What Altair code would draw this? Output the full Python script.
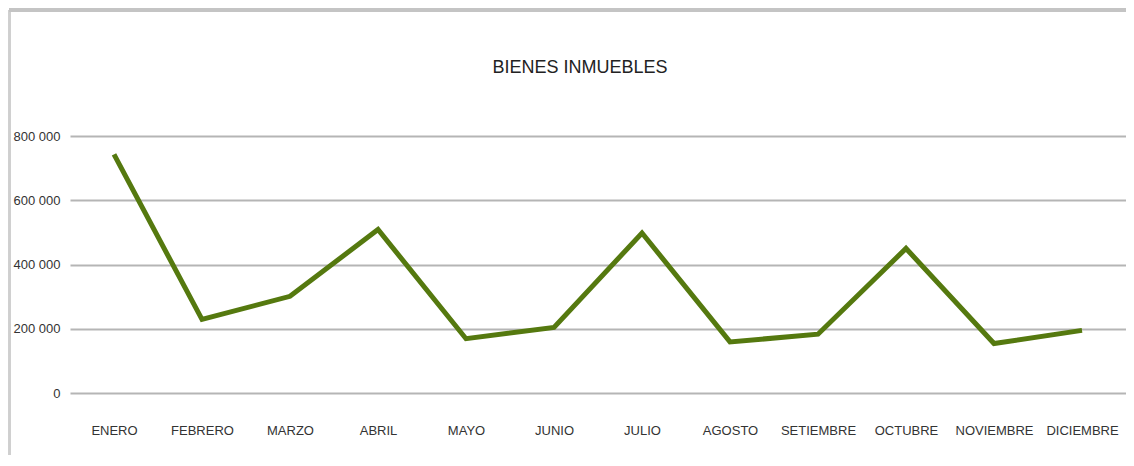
import altair as alt
import pandas as pd

months = ["ENERO", "FEBRERO", "MARZO", "ABRIL", "MAYO", "JUNIO", "JULIO",
          "AGOSTO", "SETIEMBRE", "OCTUBRE", "NOVIEMBRE", "DICIEMBRE"]
values = [743000, 229000, 301000, 509000, 169000, 204000, 498000,
          159000, 183000, 450000, 154000, 195000]
y_ticks = [0, 200000, 400000, 600000, 800000]
title_text = "BIENES INMUEBLES"

df = pd.DataFrame({"mes": months, "valor": values})

FONT = "Liberation Sans, Arial, sans-serif"
W, H = 1056, 257

base = alt.Chart(df)

line = base.mark_line(color="#55790f", strokeWidth=5, strokeCap="butt", strokeJoin="miter").encode(
    x=alt.X("mes:N", sort=months, title=None,
            scale=alt.Scale(type="point", padding=0.5),
            axis=alt.Axis(labelAngle=0, ticks=False, domain=False, grid=False,
                          labelPadding=31, labelFontSize=13, labelColor="#333333",
                          labelFont=FONT)),
    y=alt.Y("valor:Q", title=None,
            scale=alt.Scale(domain=[0, 800000], nice=False),
            axis=alt.Axis(values=y_ticks, ticks=False, domain=False,
                          gridColor="#b5b5b5", gridWidth=2,
                          labelPadding=10, labelFontSize=13, labelColor="#333333",
                          labelFont=FONT,
                          labelExpr="replace(format(datum.value, ','), ',', ' ')")),
)

frame_left = base.mark_rule(color="#cfcfcf", strokeWidth=1.5).encode(
    x=alt.value(-60.5), y=alt.value(-126), y2=alt.value(H + 70)
)
frame_top = base.mark_rule(color="#c4c4c4", strokeWidth=3).encode(
    x=alt.value(-61), x2=alt.value(W), y=alt.value(-126)
)
title = alt.Chart(pd.DataFrame({"t": [title_text]})).mark_text(
    fontSize=18, font=FONT, color="#222222", align="center", baseline="middle"
).encode(
    text="t:N", x=alt.value(510), y=alt.value(-68)
)

chart = alt.layer(frame_left, frame_top, line, title).properties(
    width=W, height=H,
    autosize=alt.AutoSizeParams(type="none"),
    padding={"left": 62, "top": 128, "right": 0, "bottom": 62},
    background="white",
).configure_view(stroke=None)

chart.save("out.html", embed_options={"renderer": "svg", "actions": False})
